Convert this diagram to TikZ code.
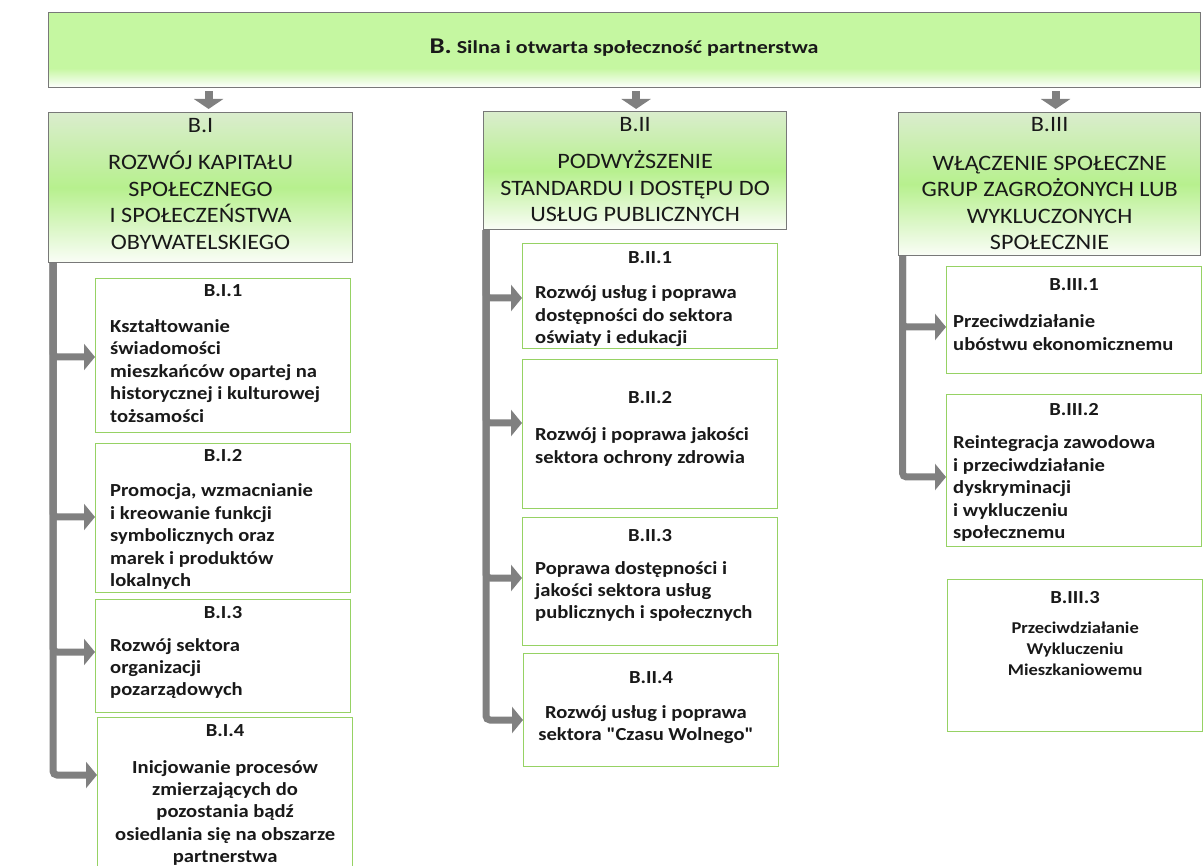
\documentclass[tikz,border=0pt]{standalone}
\usepackage{fontspec}
\setmainfont{Carlito}
\newfontfamily\bodyfont{Carlito}[FakeStretch=1.12, Ligatures=TeXOff]
\newfontfamily\hdrfont{Carlito}[FakeStretch=1.1]
\newfontfamily\titlefont{Carlito}[FakeStretch=1.2]
\usetikzlibrary{arrows.meta}
\definecolor{boxgreen}{RGB}{150,210,100}
\definecolor{arrowgray}{RGB}{128,128,128}
\definecolor{framegray}{RGB}{120,120,120}
\definecolor{textdark}{RGB}{25,25,25}
\definecolor{bannergreen}{RGB}{197,247,161}
\definecolor{hdrtop}{RGB}{218,237,205}
\definecolor{hdrmid}{RGB}{183,240,142}
\definecolor{hdrbot}{RGB}{250,253,247}
\pgfdeclareverticalshading{bannershade}{100bp}{color(0bp)=(white); color(25bp)=(white); color(38bp)=(bannergreen); color(100bp)=(bannergreen)}
\pgfdeclareverticalshading{hdrshade}{100bp}{color(0bp)=(hdrbot); color(25bp)=(hdrbot); color(50bp)=(hdrmid); color(75bp)=(hdrtop); color(100bp)=(hdrtop)}
\tikzset{
  bannerbox/.style={draw=framegray, line width=1.2pt, shading=bannershade, anchor=north west, inner sep=0pt},
  hdrbox/.style={draw=framegray, line width=1.2pt, shading=hdrshade, anchor=north west, inner sep=0pt},
  leafbox/.style={draw=boxgreen, line width=1.3pt, fill=white, anchor=north west, inner sep=0pt},
  hdrtext/.style={font=\hdrfont\fontsize{22}{26.5}\selectfont, text=textdark, align=flush center, text width=300pt, inner sep=0pt, anchor=base},
  leafhead/.style={font=\bodyfont\fontsize{18.4}{22.4}\selectfont\bfseries, text=textdark, inner sep=0pt, anchor=base},
  leafbody/.style={font=\bodyfont\fontsize{18.4}{22.4}\selectfont\bfseries, text=textdark, align=flush left, text width=245pt, inner sep=0pt, anchor=base west},
  leafcenter/.style={font=\bodyfont\fontsize{18.4}{22.4}\selectfont\bfseries, text=textdark, align=flush center, text width=252pt, inner sep=0pt, anchor=base},
  branch/.style={draw=arrowgray, line width=7pt, rounded corners=4pt, -{Triangle[length=11pt,width=26pt]}},
  downarrow/.style={draw=arrowgray, line width=8pt, -{Triangle[length=10pt,width=29pt]}}
}
\begin{document}
\begin{tikzpicture}[x=1pt,y=-1pt]
\useasboundingbox (0,0) rectangle (1203,866);
% banner
\node[bannerbox, minimum width=1152pt, minimum height=75pt] (banner) at (48,12) {};
\node[inner sep=0pt, anchor=base, text=textdark, font=\titlefont\fontsize{18.3}{20}\selectfont\bfseries] (title) at (624,54) {{\fontsize{22.5}{24}\selectfont B.} Silna i otwarta społeczność partnerstwa};
% headers
\node[hdrbox, minimum width=304pt, minimum height=150pt] (hdr1) at (48,112) {};
\node[hdrbox, minimum width=303pt, minimum height=118pt] (hdr2) at (483,111) {};
\node[hdrbox, minimum width=302pt, minimum height=143pt] (hdr3) at (898,112) {};
\node[hdrtext] (hdr1id) at (hdr1.north |- 0,133) {B.I};
\node[hdrtext] (hdr1t) at (hdr1.north |- 0,170) {ROZWÓJ KAPITAŁU\\SPOŁECZNEGO\\I SPOŁECZEŃSTWA\\OBYWATELSKIEGO};
\node[hdrtext] (hdr2id) at (hdr2.north |- 0,132) {B.II};
\node[hdrtext] (hdr2t) at (hdr2.north |- 0,169) {PODWYŻSZENIE\\STANDARDU I DOSTĘPU DO\\USŁUG PUBLICZNYCH};
\node[hdrtext] (hdr3id) at (hdr3.north |- 0,132) {B.III};
\node[hdrtext] (hdr3t) at (hdr3.north |- 0,170.5) {WŁĄCZENIE SPOŁECZNE\\GRUP ZAGROŻONYCH LUB\\WYKLUCZONYCH\\SPOŁECZNIE};
% down arrows
\draw[downarrow] ([xshift=8pt,yshift=-3pt]hdr1.north |- banner.south) -- ([xshift=8pt,yshift=3pt]hdr1.north);
\draw[downarrow] ([xshift=1pt,yshift=-3pt]hdr2.north |- banner.south) -- ([xshift=1pt,yshift=2pt]hdr2.north);
\draw[downarrow] ([xshift=6pt,yshift=-3pt]hdr3.north |- banner.south) -- ([xshift=6pt,yshift=3pt]hdr3.north);
% B.I boxes
\node[leafbox, minimum width=255pt, minimum height=154pt] (b11) at (95,278) {};
\node[leafbox, minimum width=255pt, minimum height=149pt] (b12) at (95,443) {};
\node[leafbox, minimum width=255pt, minimum height=113pt] (b13) at (95,599) {};
\node[leafbox, minimum width=255pt, minimum height=165pt] (b14) at (97,717) {};
\node[leafhead] (b11h) at (b11.north |- 0,297) {B.I.1};
\node[leafbody] (b11t) at (110,332.5) {Kształtowanie\\świadomości\\mieszkańców opartej na\\historycznej i kulturowej\\tożsamości};
\node[leafhead] (b12h) at (b12.north |- 0,462) {B.I.2};
\node[leafbody] (b12t) at (110,497) {Promocja, wzmacnianie\\i kreowanie funkcji\\symbolicznych oraz\\marek i produktów\\lokalnych};
\node[leafhead] (b13h) at (b13.north |- 0,618) {B.I.3};
\node[leafbody] (b13t) at (110,651) {Rozwój sektora\\organizacji\\pozarządowych};
\node[leafhead] (b14h) at (b14.north |- 0,736) {B.I.4};
\node[leafcenter] (b14t) at (b14.north |- 0,773) {Inicjowanie procesów\\zmierzających do\\pozostania bądź\\osiedlania się na obszarze\\partnerstwa};
% B.II boxes
\node[leafbox, minimum width=255pt, minimum height=105pt] (b21) at (522,243) {};
\node[leafbox, minimum width=255pt, minimum height=149pt] (b22) at (522,359) {};
\node[leafbox, minimum width=255pt, minimum height=128pt] (b23) at (522,517) {};
\node[leafbox, minimum width=255pt, minimum height=113pt] (b24) at (523,653) {};
\node[leafhead] (b21h) at (b21.north |- 0,264) {B.II.1};
\node[leafbody] (b21t) at (535,299) {Rozwój usług i poprawa\\dostępności do sektora\\oświaty i edukacji};
\node[leafhead] (b22h) at (b22.north |- 0,404) {B.II.2};
\node[leafbody] (b22t) at (535,441) {Rozwój i poprawa jakości\\sektora ochrony zdrowia};
\node[leafhead] (b23h) at (b23.north |- 0,541) {B.II.3};
\node[leafbody] (b23t) at (535,574) {Poprawa dostępności i\\jakości sektora usług\\publicznych i społecznych};
\node[leafhead] (b24h) at (b24.north |- 0,683) {B.II.4};
\node[leafcenter] (b24t) at (646,718) {Rozwój usług i poprawa\\sektora "Czasu Wolnego"};
% B.III boxes
\node[leafbox, minimum width=255pt, minimum height=107pt] (b31) at (946,266) {};
\node[leafbox, minimum width=255pt, minimum height=152pt] (b32) at (946,394) {};
\node[leafbox, minimum width=255pt, minimum height=152pt] (b33) at (947,579) {};
\node[leafhead] (b31h) at (b31.north |- 0,291) {B.III.1};
\node[leafbody] (b31t) at (953,328) {Przeciwdziałanie\\ubóstwu ekonomicznemu};
\node[leafhead] (b32h) at (b32.north |- 0,416) {B.III.2};
\node[leafbody] (b32t) at (953,449) {Reintegracja zawodowa\\i przeciwdziałanie\\dyskryminacji\\i wykluczeniu\\społecznemu};
\node[leafhead] (b33h) at (b33.north |- 0,603) {B.III.3};
\node[leafcenter, font=\bodyfont\fontsize{16.5}{21}\selectfont\bfseries] (b33t) at (b33.north |- 0,633) {Przeciwdziałanie\\Wykluczeniu\\Mieszkaniowemu};
% branches
\draw[branch] ([xshift=5pt]hdr1.south west) |- (b14.west |- 0,775);
\draw[branch] ([xshift=5pt]hdr1.south west) |- (b11.west |- 0,357);
\draw[branch] ([xshift=5pt]hdr1.south west) |- (b12.west |- 0,517);
\draw[branch] ([xshift=5pt]hdr1.south west) |- (b13.west |- 0,652);
\draw[branch] ([xshift=3pt]hdr2.south west) |- (b24.west |- 0,720);
\draw[branch] ([xshift=3pt]hdr2.south west) |- (b21.west |- 0,298);
\draw[branch] ([xshift=3pt]hdr2.south west) |- (b22.west |- 0,423);
\draw[branch] ([xshift=3pt]hdr2.south west) |- (b23.west |- 0,578);
\draw[branch] ([xshift=4.5pt]hdr3.south west) |- (b32.west |- 0,477);
\draw[branch] ([xshift=4.5pt]hdr3.south west) |- (b31.west |- 0,327);
\end{tikzpicture}
\end{document}
